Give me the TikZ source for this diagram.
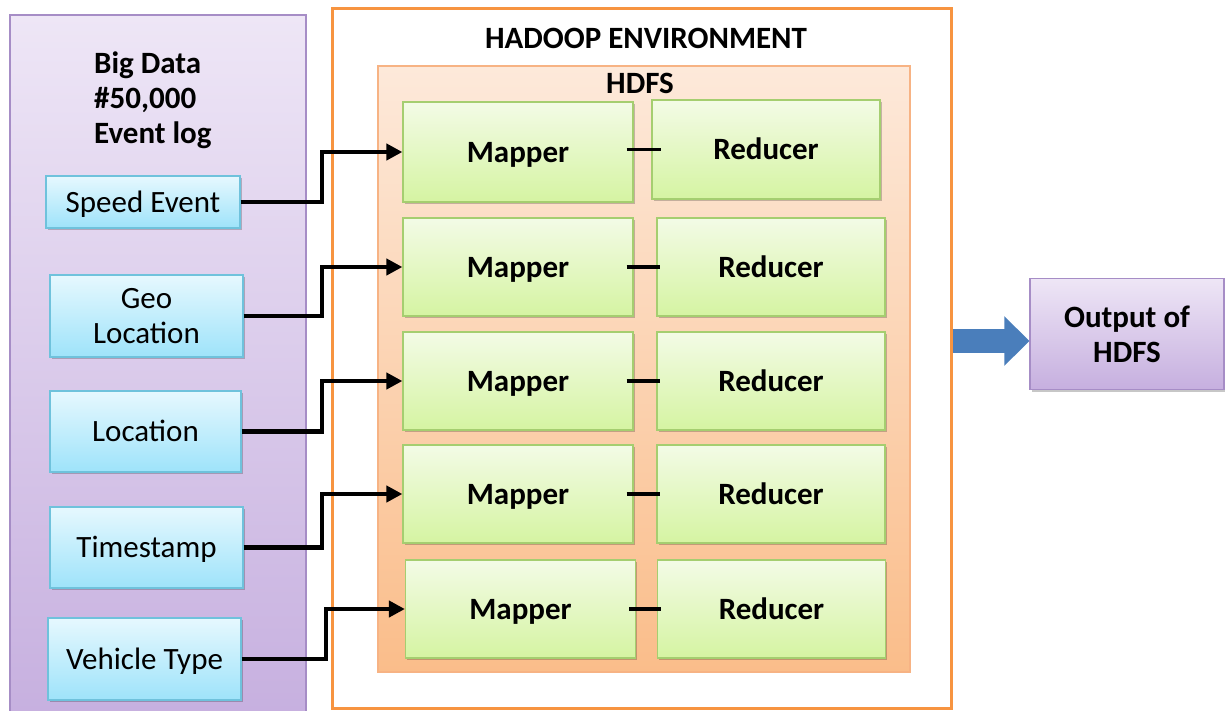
\documentclass[tikz,border=0pt]{standalone}
\usepackage{fontspec}
\setmainfont{Carlito}
\usetikzlibrary{arrows.meta,shadows,calc}

\definecolor{lavtop}{HTML}{EEE6F6}
\definecolor{lavbot}{HTML}{C6AFDF}
\definecolor{lavline}{HTML}{A68DC6}
\definecolor{cyantop}{HTML}{E6F8FE}
\definecolor{cyanbot}{HTML}{9EE3FA}
\definecolor{cyanline}{HTML}{6FC2DC}
\definecolor{greentop}{HTML}{F3FBE6}
\definecolor{greenbot}{HTML}{D5F4A2}
\definecolor{greenline}{HTML}{A5CE70}
\definecolor{peachtop}{HTML}{FDE9DA}
\definecolor{peachbot}{HTML}{FABD8A}
\definecolor{peachline}{HTML}{F7B384}
\definecolor{hadoopline}{HTML}{F79440}
\definecolor{bluearrow}{HTML}{4A7EBB}

\tikzset{
  basefont/.style={font=\fontsize{31}{35}\selectfont},
  boldfont/.style={font=\bfseries\fontsize{31}{35}\selectfont},
  oneline/.style={text height=20pt, text depth=0pt},
  softshadow/.style={drop shadow={shadow xshift=1.5pt,shadow yshift=-2pt,opacity=0.22,fill=black}},
  inputbox/.style={draw=cyanline, line width=1.2pt, top color=cyantop, bottom color=cyanbot,
    inner sep=0pt, align=center, basefont, softshadow},
  mapbox/.style={draw=greenline, line width=1.2pt, top color=greentop, bottom color=greenbot,
    inner sep=0pt, minimum width=230pt, minimum height=98pt, boldfont, oneline, softshadow},
  redbox/.style={mapbox, minimum width=228pt},
  lavbox/.style={draw=lavline, line width=1.2pt, top color=lavtop, bottom color=lavbot, inner sep=0pt},
  feed/.style={line width=4.2pt, -{Triangle[length=16pt,width=16pt]}},
  pairlink/.style={line width=3.2pt},
}

\begin{document}
\begin{tikzpicture}[x=1pt,y=-1pt]
\useasboundingbox (0,0) rectangle (1225,710);
\clip (0,0) rectangle (1225,710);

% source panel
\node[lavbox, minimum width=296pt, minimum height=710pt] (bigdata) at (158,370) {};
\node[anchor=west, inner sep=0pt, align=left, boldfont]
  (bdtitle) at (94,100) {Big Data\\\#50,000\\Event log};

% Hadoop environment
\node[draw=hadoopline, line width=3pt, fill=white, minimum width=619pt, minimum height=700pt,
  inner sep=0pt] (hadoop) at (641.5,358) {};
\node[boldfont, oneline, inner sep=0pt] (hadooptitle) at (646,38) {HADOOP ENVIRONMENT};

% HDFS
\node[draw=peachline, line width=1.2pt, top color=peachtop, bottom color=peachbot,
  minimum width=532pt, minimum height=606pt, inner sep=0pt] (hdfs) at (644,369) {};
\node[boldfont, oneline, inner sep=0pt] (hdfstitle) at (640,83) {HDFS};

% event sources
\node[inputbox, oneline, minimum width=194pt, minimum height=52pt] (speed) at (143,202) {Speed Event};
\node[inputbox, minimum width=193pt, minimum height=82pt] (geo) at (146.5,316) {Geo\\Location};
\node[inputbox, oneline, minimum width=191pt, minimum height=81pt] (loc) at (145.5,431.5) {Location};
\node[inputbox, oneline, minimum width=193pt, minimum height=81pt] (time) at (146.5,547.5) {Timestamp};
\node[inputbox, oneline, minimum width=193pt, minimum height=82pt] (veh) at (144.5,659) {Vehicle Type};

% mapper / reducer pairs
\node[mapbox, minimum height=100pt] (m1) at (518,152) {Mapper};
\node[redbox, minimum height=99pt] (r1) at (766,149.5) {Reducer};
\node[mapbox] (m2) at (518,267) {Mapper};
\node[redbox] (r2) at (771,267) {Reducer};
\node[mapbox] (m3) at (518,381) {Mapper};
\node[redbox] (r3) at (771,381) {Reducer};
\node[mapbox] (m4) at (518,494) {Mapper};
\node[redbox] (r4) at (771,494) {Reducer};
\node[mapbox] (m5) at (520.5,609) {Mapper};
\node[redbox] (r5) at (771.5,609) {Reducer};

\foreach \i/\s in {1/10,2/4,3/4,4/4,5/4}{
  \draw[pairlink] ([xshift=-7pt]m\i.east |- r\i.west) -- ([xshift=\s pt]r\i.west);
}

% output
\node[lavbox, minimum width=194pt, minimum height=111pt, align=center, softshadow, boldfont]
  (out) at (1127,334) {Output of\\HDFS};

% feeds into the mappers
\coordinate (bend) at (322,0);
\coordinate (bendlow) at (326,0);
\draw[feed] (speed.east) -- (speed.east -| bend) |- (m1.west);
\draw[feed] (geo.east) -- (geo.east -| bend) |- (m2.west);
\draw[feed] (loc.east) -- (loc.east -| bend) |- (m3.west);
\draw[feed] (time.east) -- (time.east -| bend) |- (m4.west);
\draw[feed] (veh.east) -- (veh.east -| bendlow) |- (m5.west);

% result arrow
\draw[bluearrow, line width=24pt, -{Triangle[length=25pt,width=48pt]}]
  ([yshift=-7pt]out.west -| hadoop.east) -- ([yshift=-7pt]out.west);
\end{tikzpicture}
\end{document}
